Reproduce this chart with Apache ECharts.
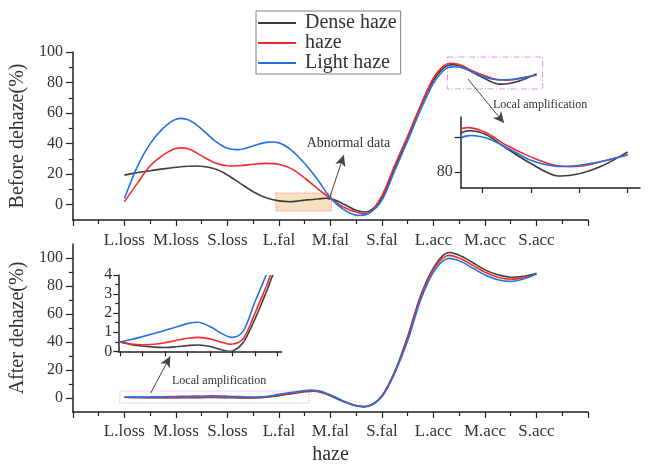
<!DOCTYPE html>
<html>
<head>
<meta charset="utf-8">
<title>Before / after dehaze</title>
<script src="https://cdn.jsdelivr.net/npm/echarts@6.0.0/dist/echarts.min.js"></script>
<style>
  html, body { margin: 0; padding: 0; background: #fff; }
  #chart { width: 648px; height: 466px; }
</style>
</head>
<body>
<div id="chart"></div>
<script>
// 类别（x 轴 1..9）
const cats = ['L.loss', 'M.loss', 'S.loss', 'L.fal', 'M.fal', 'S.fal', 'L.acc', 'M.acc', 'S.acc'];
const names = ['Dense haze', 'haze', 'Light haze'];
const colors = ['#3c3c3c', '#f42a2a', '#2270e2'];

// 读图取样位置（每 1/4 个类别）
const sampleX = [1, 1.25, 1.5, 1.75, 2, 2.25, 2.5, 2.75, 3, 3.25, 3.5, 3.75, 4, 4.25, 4.5, 4.75,
                 5, 5.25, 5.5, 5.75, 6, 6.25, 6.5, 6.75, 7, 7.25, 7.5, 7.75, 8, 8.25, 8.5, 8.75, 9];

// 去雾前
const beforeDense = [19.4, 21, 22.3, 23.5, 24.5, 25.2, 25.2, 23.5, 19.5, 14, 8.5, 4.5, 2.5, 2, 3, 3.8,
                     4, 0.5, -3.6, -4.2, 4.5, 24.5, 44, 64.5, 81.5, 90.8, 91.2, 86.8, 82.5, 79.1, 79.6, 82, 85.8];
const beforeHaze  = [2, 14, 25.5, 32.5, 36.8, 36.5, 32, 27.5, 25.5, 25.6, 26.5, 27.1, 26.5, 23.5, 17.5, 10.5,
                     4, -1.5, -4.8, -5.3, 6, 26, 45, 65, 83, 92, 91.8, 87.7, 84.4, 82, 81.7, 83.2, 85];
const beforeLight = [4.2, 25, 40, 50, 56, 55.5, 49.5, 42, 37, 36.2, 38.5, 40.8, 40.5, 35.5, 27, 16.5,
                     4.5, -3, -6.8, -5.6, 3, 22.5, 42, 62, 79.5, 89.3, 90.1, 87.1, 83.4, 81.7, 82, 83.2, 85];

// 去雾后
const afterDense = [0.49, 0.35, 0.28, 0.22, 0.2, 0.24, 0.3, 0.33, 0.25, 0.08, 0.02, 0.5, 1.7, 3.1, 4.5, 4.6,
                    1.6, -2.5, -5.6, -5.8, 1.6, 19, 44, 73, 93, 103.5, 102, 97, 91.5, 88, 86.3, 87, 89];
const afterHaze  = [0.49, 0.38, 0.34, 0.37, 0.45, 0.57, 0.68, 0.73, 0.65, 0.48, 0.38, 0.7, 2.0, 3.4, 4.8, 4.8,
                    1.8, -2.3, -5.4, -5.6, 1.2, 18.5, 43, 72, 92, 101.5, 100, 95, 89.8, 86.3, 84.9, 86, 88.5];
const afterLight = [0.49, 0.62, 0.77, 0.93, 1.1, 1.27, 1.45, 1.52, 1.3, 0.95, 0.73, 1.1, 2.6, 4.0, 5.4, 5.3,
                    2.2, -2.2, -5.5, -5.5, 1, 18, 41, 70, 90, 99.3, 98, 93, 87.9, 84.5, 83.3, 85, 88.5];

const FONT = 'Liberation Serif';
const AX = { color: '#222', width: 1.5 };
const TICK = { color: '#222', width: 1.2 };
const TXT = '#333';

const chart = echarts.init(document.getElementById('chart'));

// 主图 x 轴
function xAxisMain(grid, extra) {
  return Object.assign({
    gridIndex: grid, type: 'value', min: 0, max: 10, interval: 1,
    axisLine: { show: true, onZero: false, lineStyle: AX },
    axisTick: { show: true, length: 6, lineStyle: TICK },
    minorTick: { show: true, splitNumber: 2, length: 4, lineStyle: TICK },
    axisLabel: { formatter: v => cats[v - 1] || '', fontSize: 17, color: TXT, margin: 12, fontFamily: FONT },
    splitLine: { show: false }, minorSplitLine: { show: false }
  }, extra || {});
}

function yAxisMain(grid, max, name) {
  return {
    gridIndex: grid, type: 'value', min: -10, max: max, position: 'left',
    name: name, nameLocation: 'middle', nameGap: 37,
    nameTextStyle: { fontSize: 20, color: TXT, fontFamily: FONT },
    axisLine: { show: true, onZero: false, lineStyle: AX },
    axisTick: { show: true, customValues: [0, 20, 40, 60, 80, 100], length: 7, lineStyle: TICK },
    axisLabel: { customValues: [0, 20, 40, 60, 80, 100], fontSize: 16, color: TXT, margin: 10, fontFamily: FONT },
    splitLine: { show: false }
  };
}

// 次刻度覆盖轴
function yAxisMinor(grid, max) {
  return {
    gridIndex: grid, type: 'value', min: -10, max: max, position: 'left',
    axisLine: { show: false, onZero: false },
    axisTick: { show: true, customValues: [10, 30, 50, 70, 90], length: 4, lineStyle: TICK },
    axisLabel: { show: false },
    splitLine: { show: false }
  };
}

// 样条曲线：每个数据点画到下一个点的一段三次贝塞尔
function splineItem(color) {
  return function (params, api) {
    const i = params.dataIndexInside;
    const n = params.dataInsideLength;
    if (i >= n - 1) return null;
    const pt = k => api.coord([api.value(0, k), api.value(1, k)]);
    const p0 = pt(Math.max(i - 1, 0));
    const p1 = pt(i);
    const p2 = pt(i + 1);
    const p3 = pt(Math.min(i + 2, n - 1));
    const cs = params.coordSys;
    return {
      type: 'bezierCurve',
      silent: true,
      clipPath: { type: 'rect', shape: { x: cs.x, y: cs.y, width: cs.width, height: cs.height } },
      shape: {
        x1: p1[0], y1: p1[1], x2: p2[0], y2: p2[1],
        cpx1: p1[0] + (p2[0] - p0[0]) / 6, cpy1: p1[1] + (p2[1] - p0[1]) / 6,
        cpx2: p2[0] - (p3[0] - p1[0]) / 6, cpy2: p2[1] - (p3[1] - p1[1]) / 6
      },
      style: { stroke: color, fill: 'none', lineWidth: 1.6 }
    };
  };
}

function curve(i, ys, xi, yi) {
  return {
    type: 'custom', name: names[i], xAxisIndex: xi, yAxisIndex: yi,
    data: sampleX.map((x, k) => [x, ys[k]]),
    encode: { x: 0, y: 1 },
    clip: true,
    itemStyle: { color: colors[i] },
    renderItem: splineItem(colors[i])
  };
}

const arrowStyle = { color: '#444', width: 1, type: 'solid' };

function note(text, coord, size) {
  return {
    name: text, coord: coord, symbol: 'rect', symbolSize: 1,
    itemStyle: { color: 'rgba(0,0,0,0)' },
    label: { show: true, position: 'inside', formatter: '{b}', fontSize: size, color: '#333', fontFamily: FONT }
  };
}

// 标注（框、箭头、文字）
const topMarks = {
  type: 'line', xAxisIndex: 0, yAxisIndex: 0, data: [], silent: true,
  markArea: {
    silent: true,
    data: [
      [{ coord: [3.94, 7.7], itemStyle: { color: 'rgba(240, 205, 150, 0.6)', borderColor: '#ff8a8a', borderWidth: 1, borderType: 'dotted' } },
       { coord: [5.02, -4.1] }],
      [{ coord: [7.27, 96.7], itemStyle: { color: 'rgba(0,0,0,0)', borderColor: '#e48cf0', borderWidth: 1, borderType: [6, 2, 1, 2] } },
       { coord: [9.12, 75.8] }]
    ]
  },
  markLine: {
    silent: true, symbol: ['none', 'arrow'], symbolSize: [8, 11],
    label: { show: false }, lineStyle: arrowStyle,
    data: [
      [{ coord: [4.97, 3.1] }, { coord: [5.26, 32.5] }],
      [{ coord: [7.67, 82.3] }, { coord: [8.37, 53.5] }]
    ]
  },
  markPoint: {
    silent: true,
    data: [note('Abnormal data', [5.35, 40.4], 14), note('Local amplification', [9.07, 65.3], 12)]
  }
};

const bottomMarks = {
  type: 'line', xAxisIndex: 2, yAxisIndex: 2, data: [], silent: true,
  markArea: {
    silent: true,
    data: [
      [{ coord: [0.91, 5], itemStyle: { color: 'rgba(0,0,0,0)', borderColor: '#f2a0f2', borderWidth: 1, borderType: 'dotted' } },
       { coord: [4.58, -3.5] }]
    ]
  },
  markLine: {
    silent: true, symbol: ['none', 'arrow'], symbolSize: [8, 11],
    label: { show: false }, lineStyle: arrowStyle,
    data: [[{ coord: [1.51, 3.5] }, { coord: [1.89, 29.8] }]]
  },
  markPoint: {
    silent: true,
    data: [note('Local amplification', [2.84, 12.1], 12)]
  }
};

const before = [beforeDense, beforeHaze, beforeLight];
const after = [afterDense, afterHaze, afterLight];
const series = [topMarks, bottomMarks];
before.forEach((ys, i) => series.push(curve(i, ys, 0, 0)));
before.forEach((ys, i) => series.push(curve(i, ys, 1, 1)));
after.forEach((ys, i) => series.push(curve(i, ys, 2, 2)));
after.forEach((ys, i) => series.push(curve(i, ys, 3, 3)));

chart.setOption({
  animation: false,
  backgroundColor: '#fff',
  textStyle: { fontFamily: FONT },
  legend: {
    data: names, orient: 'vertical', left: 256, top: 11,
    padding: [2, 4, 1, 2], itemGap: 0, itemWidth: 38, itemHeight: 2,
    icon: 'rect',
    borderColor: '#808080', borderWidth: 1,
    textStyle: { fontSize: 20, color: TXT, fontFamily: FONT, lineHeight: 20, padding: [0, 0, 0, 4] }
  },
  grid: [
    { left: 70, top: 52, width: 518, height: 168 },
    { left: 460.7, top: 117, width: 179.3, height: 71 },
    { left: 70, top: 244, width: 518, height: 169 },
    { left: 118.3, top: 275, width: 163.4, height: 76.3 }
  ],
  xAxis: [
    xAxisMain(0),
    {
      gridIndex: 1, type: 'value', min: 7.277, max: 9.127,
      axisLine: { show: true, onZero: false, lineStyle: AX },
      axisTick: { show: true, customValues: [7.5, 8, 8.5, 9], length: 5, lineStyle: TICK },
      axisLabel: { show: false }, splitLine: { show: false }
    },
    xAxisMain(2, {
      name: 'haze', nameLocation: 'middle', nameGap: 33,
      nameTextStyle: { fontSize: 20, color: TXT, fontFamily: FONT },
      axisLabel: { formatter: v => cats[v - 1] || '', fontSize: 17, color: TXT, margin: 11, fontFamily: FONT }
    }),
    {
      gridIndex: 3, type: 'value', min: 0.962, max: 4.593,
      axisLine: { show: true, onZero: false, lineStyle: AX },
      axisTick: { show: true, customValues: [1, 1.5, 2, 2.5, 3, 3.5, 4, 4.5], length: 5, lineStyle: TICK },
      axisLabel: { show: false }, splitLine: { show: false }
    }
  ],
  yAxis: [
    yAxisMain(0, 100, 'Before dehaze(%)'),
    {
      gridIndex: 1, type: 'value', min: 75.5, max: 95.8, position: 'left',
      axisLine: { show: true, onZero: false, lineStyle: AX },
      axisTick: { show: true, customValues: [80, 90], length: 6, lineStyle: TICK },
      axisLabel: { customValues: [80], fontSize: 16, color: TXT, margin: 8, fontFamily: FONT },
      splitLine: { show: false }
    },
    yAxisMain(2, 110, 'After dehaze(%)'),
    {
      gridIndex: 3, type: 'value', min: 0, max: 4, interval: 1, position: 'left',
      axisLine: { show: true, onZero: false, lineStyle: AX },
      axisTick: { show: true, length: 5, lineStyle: TICK },
      minorTick: { show: true, splitNumber: 2, length: 3, lineStyle: TICK },
      axisLabel: { fontSize: 16, color: TXT, margin: 6, fontFamily: FONT },
      splitLine: { show: false }, minorSplitLine: { show: false }
    },
    yAxisMinor(0, 100),
    yAxisMinor(2, 110)
  ],
  series: series
});
</script>
</body>
</html>
